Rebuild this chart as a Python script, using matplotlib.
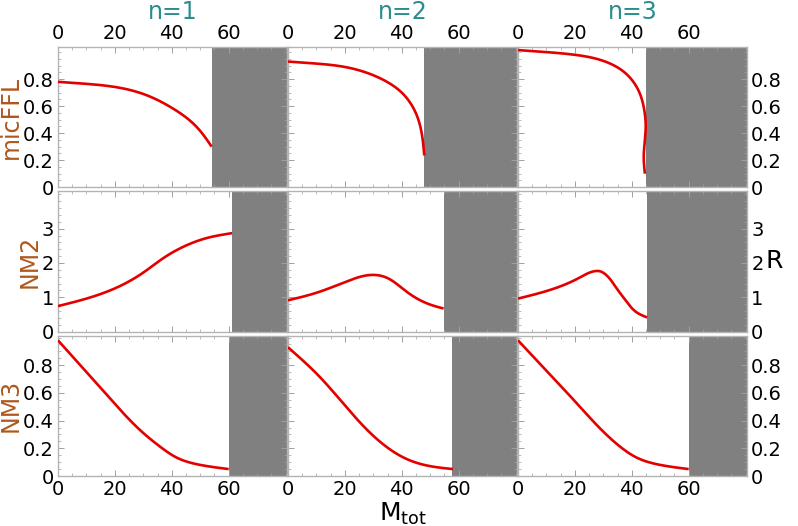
import numpy as np
import matplotlib.pyplot as plt
from matplotlib.ticker import MultipleLocator, FuncFormatter

# values (M_tot, R)
row_names = ['micFFL', 'NM2', 'NM3']
col_names = ['n=1', 'n=2', 'n=3']

mic_n1_x = [0, 10, 20.6, 30, 40.6, 47.6, 51, 54]
mic_n1_y = [0.78, 0.765, 0.74, 0.69, 0.58, 0.47, 0.39, 0.30]
mic_n2_x = [0, 10, 20, 33, 40, 44.7, 47, 47.9]
mic_n2_y = [0.93, 0.915, 0.89, 0.80, 0.70, 0.56, 0.40, 0.235]
mic_n3_x = [0, 10, 20, 30, 38, 42.7, 44.4, 44.9, 44.5, 44.2, 44.6]
mic_n3_y = [1.015, 1.0, 0.98, 0.935, 0.84, 0.70, 0.57, 0.45, 0.33, 0.22, 0.1]

nm2_n1_x = [0, 10, 20.6, 30, 37, 45.3, 52.4, 61.2]
nm2_n1_y = [0.74, 0.96, 1.28, 1.72, 2.14, 2.52, 2.73, 2.87]
nm2_n2_x = [0, 10, 20.6, 30.6, 34.7, 40.6, 46.5, 50.5, 54.7]
nm2_n2_y = [0.91, 1.13, 1.46, 1.65, 1.57, 1.23, 0.91, 0.77, 0.67]
nm2_n3_x = [0, 10, 21.6, 26.9, 28.7, 31, 34.5, 38, 41.5, 45.4]
nm2_n3_y = [0.96, 1.18, 1.57, 1.76, 1.76, 1.65, 1.28, 0.89, 0.57, 0.41]

nm3_n1_x = [0, 10, 20, 30, 36, 42, 50, 60]
nm3_n1_y = [0.98, 0.75, 0.52, 0.31, 0.21, 0.13, 0.08, 0.05]
nm3_n2_x = [0, 10.5, 20, 30, 36, 42, 49, 58]
nm3_n2_y = [0.93, 0.73, 0.51, 0.29, 0.19, 0.12, 0.075, 0.05]
nm3_n3_x = [0, 10, 20, 30, 36, 42, 50, 60]
nm3_n3_y = [0.98, 0.76, 0.54, 0.32, 0.21, 0.13, 0.08, 0.05]

curves = [[(mic_n1_x, mic_n1_y), (mic_n2_x, mic_n2_y), (mic_n3_x, mic_n3_y)],
          [(nm2_n1_x, nm2_n1_y), (nm2_n2_x, nm2_n2_y), (nm2_n3_x, nm2_n3_y)],
          [(nm3_n1_x, nm3_n1_y), (nm3_n2_x, nm3_n2_y), (nm3_n3_x, nm3_n3_y)]]

# start of the grey (excluded) region
gray_start = [[54, 47.9, 45],
              [61.2, 54.7, 45.4],
              [60, 57.8, 60]]

ylims = [1.04, 4.1, 1.015]
ymajor = [0.2, 1, 0.2]
yminor = [0.05, 0.2, 0.05]
ymaxtick = [0.8, 3, 0.8]
xmax = 80.5


def natural_spline(t, v, tt):
    n = len(t)
    h = np.diff(t)
    A = np.zeros((n, n))
    b = np.zeros(n)
    A[0, 0] = A[-1, -1] = 1
    for i in range(1, n - 1):
        A[i, i - 1] = h[i - 1]
        A[i, i] = 2 * (h[i - 1] + h[i])
        A[i, i + 1] = h[i]
        b[i] = 6 * ((v[i + 1] - v[i]) / h[i] - (v[i] - v[i - 1]) / h[i - 1])
    m = np.linalg.solve(A, b)
    k = np.clip(np.searchsorted(t, tt) - 1, 0, n - 2)
    d = tt - t[k]
    hk = h[k]
    a = (m[k + 1] - m[k]) / (6 * hk)
    bb = m[k] / 2
    c = (v[k + 1] - v[k]) / hk - hk * (2 * m[k] + m[k + 1]) / 6
    return v[k] + c * d + bb * d ** 2 + a * d ** 3


def smooth(x, y, ylim):
    x = np.asarray(x, float)
    y = np.asarray(y, float)
    px = x / xmax * 229
    py = y / ylim * 140
    t = np.concatenate([[0], np.cumsum(np.hypot(np.diff(px), np.diff(py)))])
    tt = np.linspace(0, t[-1], 400)
    return natural_spline(t, x, tt), natural_spline(t, y, tt)


fmt = FuncFormatter(lambda v, pos: '0' if abs(v) < 1e-9 else ('%g' % v))

fig = plt.figure(figsize=(7.98, 5.26), dpi=100)
W, H = 798, 526
lefts = [58, 288, 518]
tops = [46.7, 191, 335.5]
aw, ah = 229, 140.5
frame_col = '#b4b4b4'
teal = '#2a8c8c'
brown = '#b0581c'

for r in range(3):
    for c in range(3):
        ax = fig.add_axes([lefts[c] / W, 1 - (tops[r] + ah) / H, aw / W, ah / H])
        ax.set_xlim(0, xmax)
        ax.set_ylim(0, ylims[r])
        ax.axvspan(gray_start[r][c], xmax, color='#808080', lw=0, zorder=1)
        x, y = smooth(*curves[r][c], ylims[r])
        ax.plot(x, y, color='#e50000', lw=1.9, zorder=3, solid_capstyle='butt')
        if r == 0 and c == 2:
            ax.plot([gray_start[r][c], xmax], [0.004, 0.004], color='#c03030', lw=0.6, zorder=3)
        for s in ax.spines.values():
            s.set_color(frame_col)
            s.set_linewidth(1.0)
        ax.set_xticks([0, 20, 40, 60])
        ax.xaxis.set_minor_locator(MultipleLocator(5))
        ax.set_yticks(np.arange(0, ymaxtick[r] + 1e-9, ymajor[r]))
        ax.yaxis.set_minor_locator(MultipleLocator(yminor[r]))
        ax.xaxis.set_major_formatter(fmt)
        ax.yaxis.set_major_formatter(fmt)
        ax.tick_params(which='both', direction='in', top=True, right=True,
                       color='#a0a0a0', labelsize=14, pad=3)
        ax.tick_params(which='major', length=4, width=0.7)
        ax.tick_params(which='minor', length=2, width=0.5)
        ax.tick_params(labelbottom=(r == 2), labeltop=(r == 0),
                       labelleft=(c == 0), labelright=(c == 2))
        if r == 0:
            ax.set_title(col_names[c], color=teal, fontsize=17, pad=1)
        if c == 0:
            ax.set_ylabel(row_names[r], color=brown, fontsize=17, labelpad=0)
        if r == 1 and c == 2:
            ax.yaxis.set_label_position('right')
            ax.set_ylabel('R', fontsize=18, rotation=0, labelpad=8, va='center')
        if r == 2 and c == 1:
            ax.set_xlabel(r'M$_{\mathrm{tot}}$', fontsize=18, labelpad=1)

fig.savefig('out.png', dpi=100)
